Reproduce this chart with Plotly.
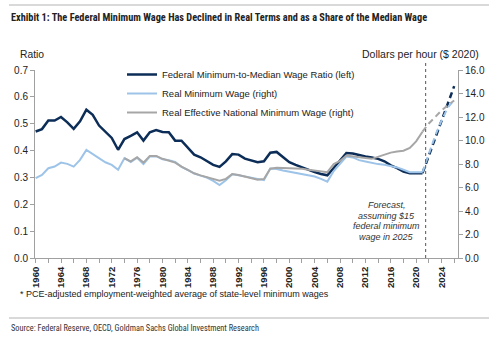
import plotly.graph_objects as go

years = list(range(1960, 2022))
ratio = [0.471, 0.480, 0.512, 0.512, 0.525, 0.505, 0.481, 0.509, 0.552, 0.533,
         0.493, 0.468, 0.447, 0.403, 0.443, 0.455, 0.468, 0.437, 0.468, 0.476,
         0.469, 0.468, 0.437, 0.437, 0.410, 0.385, 0.375, 0.360, 0.347, 0.339,
         0.360, 0.387, 0.385, 0.370, 0.363, 0.357, 0.360, 0.392, 0.395, 0.375,
         0.357, 0.347, 0.337, 0.329, 0.320, 0.313, 0.308, 0.335, 0.362, 0.391,
         0.389, 0.383, 0.378, 0.374, 0.369, 0.360, 0.345, 0.335, 0.322, 0.316,
         0.316, 0.316]
real_min = [6.80, 7.07, 7.64, 7.78, 8.12, 8.01, 7.78, 8.35, 9.20, 8.85,
            8.49, 8.15, 7.92, 7.51, 8.49, 8.17, 8.53, 7.99, 8.63, 8.67,
            8.40, 8.33, 8.17, 7.76, 7.49, 7.19, 7.01, 6.85, 6.57, 6.21,
            6.62, 7.12, 7.05, 6.94, 6.82, 6.71, 6.62, 7.62, 7.58, 7.44,
            7.35, 7.21, 7.17, 7.07, 6.94, 6.73, 6.50, 7.40, 7.99, 8.63,
            8.56, 8.33, 8.22, 8.08, 7.99, 7.94, 7.85, 7.71, 7.51, 7.30,
            7.30, 7.30]
eff_years = list(range(1974, 2022))
real_eff = [8.49, 8.22, 8.58, 8.12, 8.69, 8.69, 8.44, 8.31, 8.12, 7.78,
            7.51, 7.21, 7.03, 6.89, 6.73, 6.57, 6.73, 7.14, 7.07, 6.94,
            6.80, 6.66, 6.73, 7.60, 7.69, 7.67, 7.62, 7.60, 7.60, 7.51,
            7.42, 7.35, 7.30, 7.99, 8.26, 8.72, 8.67, 8.58, 8.51, 8.44,
            8.63, 8.83, 8.97, 9.06, 9.13, 9.36, 9.93, 10.75]

fc_years = [2021, 2022, 2023, 2024, 2025, 2026]
ratio_fc = [0.316, 0.381, 0.446, 0.510, 0.575, 0.640]
real_min_fc = [7.30, 8.90, 10.40, 11.70, 12.80, 13.45]
real_eff_fc = [10.75, 11.45, 12.00, 12.55, 13.00, 13.40]

NAVY = "#0c2d57"
LBLUE = "#9dc4e8"
GRAY = "#a6a6a6"
TXT = "#222222"
AX = "#a0a0a0"

fig = go.Figure()
fig.add_trace(go.Scatter(x=years, y=real_min, yaxis="y2", mode="lines",
                         name="Real Minimum Wage (right)", legendrank=2,
                         line=dict(color=LBLUE, width=2)))
fig.add_trace(go.Scatter(x=eff_years, y=real_eff, yaxis="y2", mode="lines",
                         name="Real Effective National Minimum Wage (right)", legendrank=3,
                         line=dict(color=GRAY, width=2)))
fig.add_trace(go.Scatter(x=years, y=ratio, mode="lines",
                         name="Federal Minimum-to-Median Wage Ratio (left)", legendrank=1,
                         line=dict(color=NAVY, width=2.5)))
fig.add_trace(go.Scatter(x=fc_years, y=real_min_fc, yaxis="y2", mode="lines", showlegend=False,
                         line=dict(color=LBLUE, width=2, dash="6px,4px")))
fig.add_trace(go.Scatter(x=fc_years, y=real_eff_fc, yaxis="y2", mode="lines", showlegend=False,
                         line=dict(color=GRAY, width=2, dash="6px,4px")))
fig.add_trace(go.Scatter(x=fc_years, y=ratio_fc, mode="lines", showlegend=False,
                         line=dict(color=NAVY, width=2.5, dash="6px,4px")))

L, R, T, B = 35, 42, 70, 83
W, H = 500, 341
pw, ph = W - L - R, H - T - B

def px_x(p):
    return (p - L) / pw

def px_y(p):
    return (H - B - p) / ph

fig.update_layout(
    width=W, height=H,
    margin=dict(l=L, r=R, t=T, b=B, pad=0),
    paper_bgcolor="white", plot_bgcolor="white",
    font=dict(family="Arial, Liberation Sans, sans-serif", size=10, color=TXT),
    showlegend=True,
    legend=dict(x=px_x(122), y=px_y(60), xanchor="left", yanchor="top",
                bgcolor="rgba(0,0,0,0)", font=dict(size=9.5, color=TXT),
                itemwidth=30, tracegroupgap=0),
    xaxis=dict(range=[1959.9, 2026.6], tickmode="linear", tick0=1960, dtick=4,
               tickangle=-90, ticks="outside", ticklen=4, tickcolor=AX,
               showline=True, linecolor=AX, linewidth=1, showgrid=False, zeroline=False,
               tickfont=dict(size=9.5, color=TXT, weight="bold"),
               minor=dict(dtick=2, tick0=1960, ticks="outside", ticklen=4, tickcolor=AX)),
    yaxis=dict(range=[0, 0.7], dtick=0.1, tickformat=".1f", ticks="outside", ticklen=4,
               tickcolor=AX, showline=True, linecolor=AX, linewidth=1, showgrid=False,
               zeroline=False, tickfont=dict(size=10, color=TXT)),
    yaxis2=dict(range=[0, 16], dtick=2, tickformat=".1f", ticks="outside", ticklen=4,
                tickcolor=AX, showline=True, linecolor=AX, linewidth=1, showgrid=False,
                zeroline=False, overlaying="y", side="right", tickfont=dict(size=10, color=TXT)),
)

# forecast divider
fig.add_shape(type="line", xref="x", yref="paper", x0=2021.5, x1=2021.5,
              y0=0, y1=px_y(63), line=dict(color="#555555", width=1, dash="dot"))

# header / footer rules
fig.add_shape(type="line", xref="paper", yref="paper", x0=px_x(9), x1=px_x(489),
              y0=px_y(5), y1=px_y(5), line=dict(color="#cccccc", width=1.5))
fig.add_shape(type="line", xref="paper", yref="paper", x0=px_x(9), x1=px_x(489),
              y0=px_y(318), y1=px_y(318), line=dict(color="#cccccc", width=1.5))

narrow = "Liberation Sans Narrow, Arial Narrow, Roboto Condensed, Arial, sans-serif"
ann = []
ann.append(dict(text="<b>Exhibit 1: The Federal Minimum Wage Has Declined in Real Terms and as a Share of the Median Wage</b>",
                x=px_x(9), y=px_y(18), xanchor="left", yanchor="middle",
                font=dict(family=narrow, size=10.3, color=TXT)))
ann.append(dict(text="Ratio", x=px_x(18), y=px_y(54), xanchor="left", yanchor="middle",
                font=dict(size=10.3, color=TXT)))
ann.append(dict(text="Dollars per hour ($ 2020)", x=px_x(481), y=px_y(54), xanchor="right",
                yanchor="middle", font=dict(size=10.5, color=TXT)))
ann.append(dict(text="* PCE-adjusted employment-weighted average of state-level minimum wages",
                x=px_x(18), y=px_y(293.5), xanchor="left", yanchor="middle",
                font=dict(size=9, color=TXT)))
ann.append(dict(text="Source: Federal Reserve, OECD, Goldman Sachs Global Investment Research",
                x=px_x(9), y=px_y(327.5), xanchor="left", yanchor="middle",
                font=dict(family=narrow, size=8.3, color="#333333")))
for i, line in enumerate(["Forecast,", "assuming $15", "federal minimum", "wage in 2025"]):
    ann.append(dict(text="<i>" + line + "</i>", x=px_x(386.5), y=px_y(205 + i * 10.6),
                    xanchor="center", yanchor="middle",
                    font=dict(size=9, color="#333333")))
for a in ann:
    fig.add_annotation(xref="paper", yref="paper", showarrow=False, **a)

fig.write_html("out.html")
